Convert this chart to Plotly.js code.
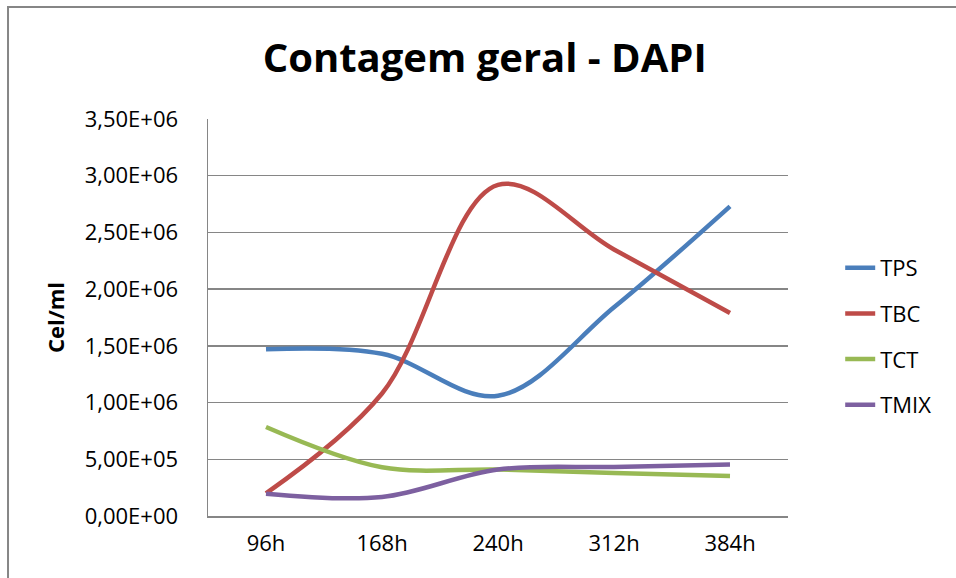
<!DOCTYPE html>
<html>
<head>
<meta charset="utf-8">
<script src="https://cdn.plot.ly/plotly-3.0.1.min.js"></script>
<style>html,body{margin:0;padding:0;background:#fff;}#chart{width:956px;height:578px;}</style>
</head>
<body>
<div id="chart"></div>
<script>
const categories = ["96h", "168h", "240h", "312h", "384h"];
const seriesNames = ["TPS", "TBC", "TCT", "TMIX"];
const TPS  = [1.47e6, 1.43e6, 1.06e6, 1.84e6, 2.73e6];
const TBC  = [0.20e6, 1.08e6, 2.92e6, 2.35e6, 1.79e6];
const TCT  = [0.785e6, 0.43e6, 0.41e6, 0.38e6, 0.353e6];
const TMIX = [0.197e6, 0.168e6, 0.41e6, 0.432e6, 0.453e6];
const yTickVals = [0, 0.5e6, 1.0e6, 1.5e6, 2.0e6, 2.5e6, 3.0e6, 3.5e6];
const yTickText = ["0,00E+00", "5,00E+05", "1,00E+06", "1,50E+06", "2,00E+06", "2,50E+06", "3,00E+06", "3,50E+06"];
const colors = ["#4A7EBB", "#BE4B48", "#98B954", "#7D60A0"];

const seriesData = [TPS, TBC, TCT, TMIX];
const traces = seriesData.map((vals, i) => ({
  type: "scatter",
  mode: "lines",
  name: seriesNames[i],
  legendgroup: seriesNames[i],
  x: categories,
  y: vals,
  line: {color: colors[i], width: 4.5, shape: "spline", smoothing: 1},
  hoverinfo: "skip"
}));

const font = "'Open Sans', Lato, sans-serif";
const layout = {
  width: 956, height: 578,
  margin: {l: 208, r: 168, t: 119, b: 62},
  paper_bgcolor: "#ffffff", plot_bgcolor: "#ffffff",
  font: {family: font, color: "#000000", size: 22},
  title: {
    text: "<b>Contagem geral - DAPI</b>",
    font: {family: font, size: 40, color: "#000000"},
    x: 0.507, xanchor: "center", y: 0.9, yanchor: "middle"
  },
  xaxis: {
    type: "category",
    range: [-0.5, 4.5],
    showgrid: false, zeroline: false,
    showline: true, linecolor: "#868686", linewidth: 1.5,
    ticks: "", tickfont: {family: font, size: 22},
    ticklabelstandoff: 7
  },
  yaxis: {
    range: [0, 3.5e6],
    tickvals: yTickVals, ticktext: yTickText,
    showgrid: true, gridcolor: "#868686", gridwidth: 1.5,
    zeroline: false, showline: true, linecolor: "#868686", linewidth: 1.5,
    ticks: "", tickfont: {family: font, size: 22},
    ticklabelstandoff: 24,
    title: {text: "<b>Cel/ml</b>", font: {family: font, size: 22}, standoff: 14}
  },
  legend: {
    x: 1.09, xanchor: "left", y: 0.452, yanchor: "middle",
    font: {family: font, size: 22},
    tracegroupgap: 14,
    bgcolor: "rgba(0,0,0,0)"
  },
  shapes: [{
    type: "rect", xref: "paper", yref: "paper",
    x0: -0.3448, x1: 1.30, y0: -0.20, y1: 1.2821,
    line: {color: "#868686", width: 2}, fillcolor: "rgba(0,0,0,0)", layer: "below"
  }],
  showlegend: true
};

Plotly.newPlot("chart", traces, layout, {displayModeBar: false, staticPlot: true});
</script>
</body>
</html>
